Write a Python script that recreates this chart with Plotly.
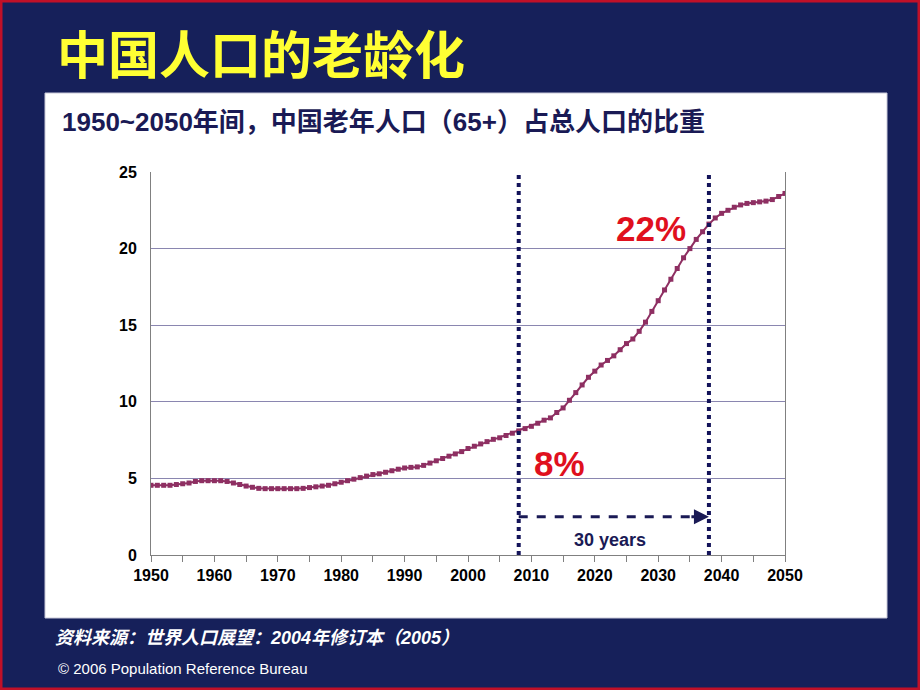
import plotly.graph_objects as go

# Share of population aged 65+ in China, 1950-2050 (%)
years = list(range(1950, 2051))
share_65 = [
    4.55, 4.55, 4.55, 4.55, 4.60, 4.65, 4.70, 4.80, 4.85, 4.85,   # 1950-1959
    4.85, 4.85, 4.80, 4.70, 4.60, 4.50, 4.42, 4.35, 4.33, 4.33,   # 1960-1969
    4.33, 4.33, 4.33, 4.33, 4.35, 4.40, 4.45, 4.50, 4.55, 4.65,   # 1970-1979
    4.75, 4.85, 4.95, 5.05, 5.15, 5.25, 5.30, 5.40, 5.50, 5.60,   # 1980-1989
    5.68, 5.72, 5.75, 5.85, 6.00, 6.15, 6.30, 6.45, 6.60, 6.75,   # 1990-1999
    6.95, 7.10, 7.25, 7.40, 7.55, 7.65, 7.80, 7.95, 8.10, 8.25,   # 2000-2009
    8.40, 8.60, 8.80, 8.95, 9.30, 9.60, 10.1, 10.6, 11.1, 11.6,   # 2010-2019
    12.0, 12.4, 12.7, 13.0, 13.4, 13.8, 14.1, 14.6, 15.2, 15.9,   # 2020-2029
    16.6, 17.3, 18.0, 18.7, 19.4, 20.0, 20.6, 21.1, 21.6, 22.0,   # 2030-2039
    22.3, 22.5, 22.7, 22.85, 22.95, 23.0, 23.05, 23.1, 23.2, 23.4,  # 2040-2049
    23.6,                                                         # 2050
]
x_ticks = [1950, 1960, 1970, 1980, 1990, 2000, 2010, 2020, 2030, 2040, 2050]
y_ticks = [0, 5, 10, 15, 20, 25]
start_year, end_year = 2008, 2038
start_label, end_label = "8%", "22%"

W, H = 920, 690
navy = "#16205a"
ink = "#1a1a55"
red = "#e0101e"
line_col = "#8e2f62"
latin_cjk = "Liberation Sans, Noto Sans CJK SC"


def px(x):
    return x / W


def py(y):
    return 1 - y / H


fig = go.Figure()

fig.add_trace(go.Scatter(
    x=years, y=share_65,
    mode="lines+markers",
    line=dict(color=line_col, width=2),
    marker=dict(symbol="square", size=5, color=line_col),
    hoverinfo="x+y",
    showlegend=False,
))

# dotted markers for the 30-year span
for yr in (start_year, end_year):
    fig.add_trace(go.Scatter(
        x=[yr, yr], y=[0, 24.8],
        mode="lines",
        line=dict(color="#14145a", width=4, dash="dot"),
        hoverinfo="skip",
        showlegend=False,
    ))

# dashed arrow
fig.add_trace(go.Scatter(
    x=[start_year, end_year - 0.8], y=[2.5, 2.5],
    mode="lines",
    line=dict(color=ink, width=3, dash="dash"),
    hoverinfo="skip",
    showlegend=False,
))

annotations = [
    dict(x=end_year, y=2.5, ax=end_year - 3, ay=2.5, xref="x", yref="y",
         axref="x", ayref="y", text="", showarrow=True, arrowhead=2,
         arrowsize=1, arrowwidth=3, arrowcolor=ink),
    dict(x=2028.9, y=21.3, xref="x", yref="y", text=end_label, showarrow=False,
         font=dict(family="Liberation Sans", size=35, color=red, weight="bold")),
    dict(x=2014.4, y=6.0, xref="x", yref="y", text=start_label, showarrow=False,
         font=dict(family="Liberation Sans", size=35, color=red, weight="bold")),
    dict(x=2022.4, y=0.95, xref="x", yref="y", text="30 years", showarrow=False,
         font=dict(family="Liberation Sans", size=18, color=ink, weight="bold")),
    # slide title
    dict(x=px(55), y=py(52), xref="paper", yref="paper", xanchor="left",
         yanchor="middle", text="中国人口的老龄化", showarrow=False,
         font=dict(family="Noto Sans CJK SC", size=51, color="#ffff33",
                   weight="bold")),
    # chart subtitle
    dict(x=px(60), y=py(122), xref="paper", yref="paper", xanchor="left",
         yanchor="middle", text="1950~2050年间，中国老年人口（65+）占总人口的比重",
         showarrow=False,
         font=dict(family=latin_cjk, size=26, color=ink, weight="bold")),
    # source
    dict(x=px(53), y=py(638), xref="paper", yref="paper", xanchor="left",
         yanchor="middle", text="<i>资料来源：世界人口展望：2004年修订本（2005）</i>",
         showarrow=False,
         font=dict(family=latin_cjk, size=18, color="white", weight="bold")),
    dict(x=px(56), y=py(668), xref="paper", yref="paper", xanchor="left",
         yanchor="middle", text="© 2006 Population Reference Bureau",
         showarrow=False,
         font=dict(family="Liberation Sans", size=15, color="white")),
]

shapes = [
    # white chart panel
    dict(type="rect", xref="paper", yref="paper", layer="below",
         x0=px(45), x1=px(887), y0=py(618), y1=py(93),
         fillcolor="white", line=dict(color="#c8c8d8", width=1)),
    # red slide border
    dict(type="rect", xref="paper", yref="paper", layer="above",
         x0=0, x1=1, y0=0, y1=1,
         line=dict(color="#c01028", width=5)),
]

fig.update_layout(
    width=W, height=H,
    autosize=False,
    margin=dict(l=0, r=0, t=0, b=0, pad=0),
    paper_bgcolor=navy,
    plot_bgcolor="rgba(0,0,0,0)",
    annotations=annotations,
    shapes=shapes,
    xaxis=dict(
        domain=[px(151), px(785)],
        range=[1950, 2050],
        automargin=False,
        tickvals=x_ticks,
        ticks="outside", ticklen=6, tickcolor="#808080",
        minor=dict(dtick=5, ticks="outside", ticklen=6, tickcolor="#808080"),
        showgrid=False, zeroline=False,
        showline=True, linecolor="#808080", linewidth=1,
        tickfont=dict(family="Liberation Sans", size=16, color="black",
                      weight="bold"),
    ),
    yaxis=dict(
        domain=[py(555), py(172)],
        range=[0, 25],
        automargin=False,
        tickvals=y_ticks,
        ticks="", ticklabelstandoff=10,
        showgrid=True, gridcolor="#8a86b0", gridwidth=1,
        zeroline=False,
        showline=True, mirror=True, linecolor="#808080", linewidth=1,
        tickfont=dict(family="Liberation Sans", size=16, color="black",
                      weight="bold"),
    ),
)

# drop the default page margin so the slide fills the window
fig.write_html("out.html", config={"displayModeBar": False},
               post_script="document.body.style.margin='0';")
